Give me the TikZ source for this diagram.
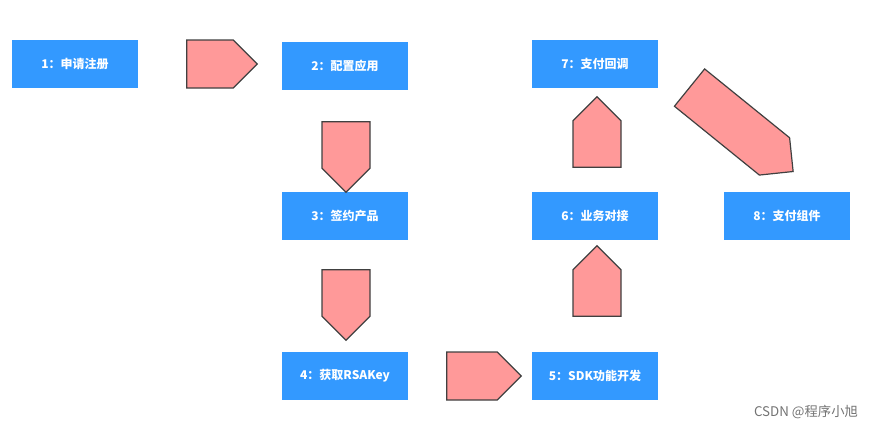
\documentclass[tikz,border=0pt]{standalone}
\usepackage{fontspec}
\newfontfamily\cjk{Noto Sans CJK SC}
\usetikzlibrary{shapes.arrows}
\definecolor{boxblue}{HTML}{3399FF}
\definecolor{arrowred}{HTML}{FF9999}
\tikzset{
  stepbox/.style={fill=boxblue, text=white, font=\cjk\bfseries\fontsize{9}{10}\selectfont,
    minimum width=94.5pt, minimum height=36pt, inner sep=0pt},
  blockarrow/.style={single arrow, draw=black!75, fill=arrowred, line width=0.9pt,
    inner sep=0pt, text height=11pt, text depth=0pt, minimum width=36pt,
    single arrow head extend=0pt, single arrow head indent=0pt, minimum height=#1, anchor=center},
}
\begin{document}
\begin{tikzpicture}[x=0.75pt,y=-0.75pt]
\useasboundingbox (0,0) rectangle (882,432);
\node[stepbox] (s1) at (75,64) {1：申请注册};
\node[stepbox] (s2) at (345,66) {2：配置应用};
\node[stepbox] (s3) at (345,216) {3：签约产品};
\node[stepbox] (s4) at (345,376) {4：获取RSAKey};
\node[stepbox] (s5) at (595,376) {5：SDK功能开发};
\node[stepbox] (s6) at (595,216) {6：业务对接};
\node[stepbox] (s7) at (595,64) {7：支付回调};
\node[stepbox] (s8) at (787,216) {8：支付组件};

\node[blockarrow=53pt] (a12) at (210,64) {};
\node[blockarrow=53pt, rotate=-90] (a23) at (346,145) {};
\node[blockarrow=53pt, rotate=-90] (a34) at (346,293) {};
\node[blockarrow=56pt] (a45) at (472,376) {};
\node[blockarrow=53pt, rotate=90] (a56) at (597,293) {};
\node[blockarrow=53pt, rotate=90] (a67) at (597,144) {};
\node[blockarrow=100pt, rotate=-39] (a78) at (732,122) {};

\node[font=\cjk\fontsize{10}{12}\selectfont, text=black!55] (mark) at (806,412) {CSDN @程序小旭};
\end{tikzpicture}
\end{document}
